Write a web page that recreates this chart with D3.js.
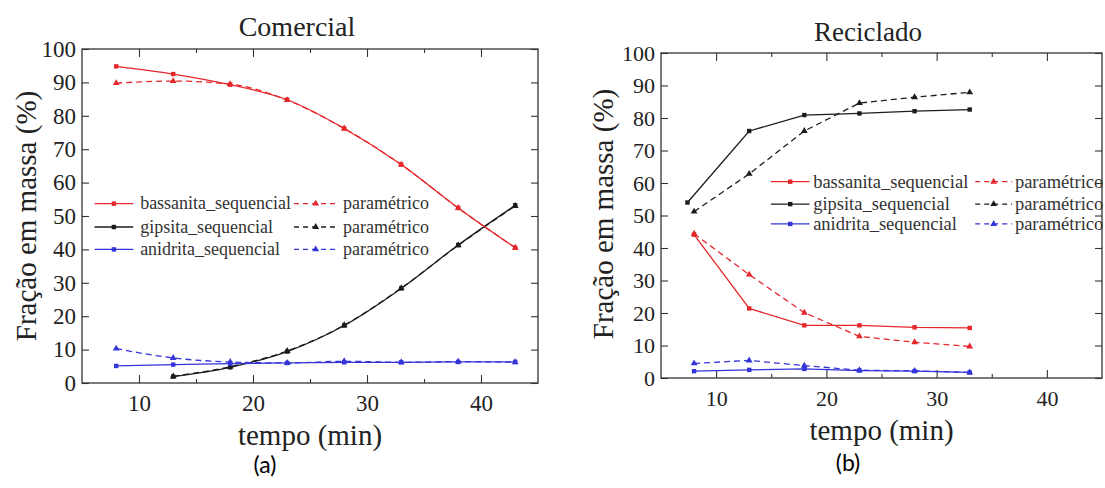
<!DOCTYPE html>
<html><head><meta charset="utf-8">
<script src="https://cdn.jsdelivr.net/npm/d3@7"></script>
<style>
body{margin:0;background:#fff}svg{display:block}
.serif{font-family:"Liberation Serif","Times New Roman","DejaVu Serif",serif}
.sans{font-family:Lato,"Open Sans",sans-serif}
</style>
</head><body><svg id="c" width="1105" height="488"></svg>
<script>
// ---------- tick labels ----------
const xTickVals = [10, 20, 30, 40];
const xMinorVals = [15, 25, 35];
const yTickVals = [0, 10, 20, 30, 40, 50, 60, 70, 80, 90, 100];

// ---------- (a) Comercial ----------
const timesA = [8, 13, 18, 23, 28, 33, 38, 43];
const bassSeqA = [94.8, 92.5, 89.3, 84.8, 76.2, 65.4, 52.4, 40.5];
const bassParA = [89.8, 90.4, 89.5, 84.7, 76.2, 65.4, 52.4, 40.5];
const gipsTimesA = [13, 18, 23, 28, 33, 38, 43];
const gipsSeqA = [1.9, 4.7, 9.4, 17.2, 28.3, 41.3, 53.2];
const gipsParA = [2.0, 4.9, 9.6, 17.3, 28.4, 41.2, 53.0];
const anidSeqA = [5.1, 5.5, 5.8, 6.0, 6.2, 6.2, 6.3, 6.3];
const anidParA = [10.3, 7.5, 6.3, 6.0, 6.5, 6.2, 6.4, 6.2];

// ---------- (b) Reciclado ----------
const timesB = [8, 13, 18, 23, 28, 33];
const gipsSeqTimesB = [7.4, 13, 18, 23, 28, 33];
const gipsSeqB = [54.0, 76.0, 80.9, 81.4, 82.1, 82.6];
const gipsParB = [51.2, 62.8, 76.0, 84.6, 86.4, 87.9];
const bassSeqB = [44.1, 21.4, 16.2, 16.2, 15.6, 15.4];
const bassParB = [44.4, 31.8, 20.1, 12.8, 11.0, 9.7];
const anidSeqB = [2.1, 2.5, 2.8, 2.3, 2.1, 1.7];
const anidParB = [4.5, 5.4, 3.8, 2.4, 2.2, 1.7];

const legendNames = ["bassanita_sequencial", "gipsita_sequencial", "anidrita_sequencial"];
const legendParam = "paramétrico";

const RED = "#e5262b", BLACK = "#1c1c1c", BLUE = "#3434d8";

const zip = (xs, ys) => xs.map((t, i) => [t, ys[i]]);

const panels = [
  {
    title: "Comercial", tag: "(a)",
    xr: [82, 538], yr: [383, 49],
    titleX: 297, titleY: 36, titleSize: 28, tickSize: 23, ylabX: 26, ylabY: 216, tagX: 265, tagY: 473,
    curve: d3.curveMonotoneX,
    legRows: [53.7, 46.7, 40], legSize: 18,
    legX: {l0: 6.1, l1: 9.5, t1: 10.1, d0: 23.6, d1: 27.4, t2: 27.9},
    series: [
      {pts: zip(gipsTimesA, gipsParA), color: BLACK, dash: true},
      {pts: zip(gipsTimesA, gipsSeqA), color: BLACK, dash: false},
      {pts: zip(timesA, anidParA), color: BLUE, dash: true},
      {pts: zip(timesA, anidSeqA), color: BLUE, dash: false},
      {pts: zip(timesA, bassParA), color: RED, dash: true},
      {pts: zip(timesA, bassSeqA), color: RED, dash: false}
    ]
  },
  {
    title: "Reciclado", tag: "(b)",
    xr: [661, 1102], yr: [378, 53],
    titleX: 868, titleY: 41, titleSize: 27, tickSize: 22, ylabX: 603, ylabY: 214, tagX: 848, tagY: 471,
    curve: d3.curveLinear,
    legRows: [60.4, 53.5, 47.4], legSize: 18.5,
    legX: {l0: 14.97, l1: 18.47, t1: 18.8, d0: 33.5, d1: 36.85, t2: 37.1},
    series: [
      {pts: zip(timesB, gipsParB), color: BLACK, dash: true},
      {pts: zip(gipsSeqTimesB, gipsSeqB), color: BLACK, dash: false},
      {pts: zip(timesB, bassParB), color: RED, dash: true},
      {pts: zip(timesB, bassSeqB), color: RED, dash: false},
      {pts: zip(timesB, anidParB), color: BLUE, dash: true},
      {pts: zip(timesB, anidSeqB), color: BLUE, dash: false}
    ]
  }
];

const svg = d3.select("#c");
svg.append("rect").attr("width", 1105).attr("height", 488).attr("fill", "#fff");

const tri = d3.symbol().type(d3.symbolTriangle).size(20);

function marker(g, cx, cy, color, dash) {
  if (dash) {
    g.append("path").attr("d", tri()).attr("transform", `translate(${cx},${cy})`).attr("fill", color);
  } else {
    g.append("rect").attr("x", cx - 2.2).attr("y", cy - 2.2).attr("width", 4.4).attr("height", 4.4).attr("fill", color);
  }
}

panels.forEach(p => {
  const x = d3.scaleLinear().domain([5, 45]).range(p.xr);
  const y = d3.scaleLinear().domain([0, 100]).range(p.yr);
  const g = svg.append("g");
  const bottom = p.yr[0], top = p.yr[1];

  const styleAxis = a => {
    a.select(".domain").remove();
    a.attr("font-family", null).attr("font-size", null);
    a.selectAll("line").attr("stroke", "#333").attr("stroke-width", 1.1);
    a.selectAll("text").attr("class", "serif").style("font-size", p.tickSize + "px").attr("fill", "#222");
  };
  g.append("g").attr("transform", `translate(0,${bottom})`)
    .call(d3.axisBottom(x).tickValues(xTickVals).tickSizeInner(-8).tickSizeOuter(0).tickPadding(12).tickFormat(d3.format("d")))
    .call(styleAxis);
  g.append("g").attr("transform", `translate(0,${bottom})`)
    .call(d3.axisBottom(x).tickValues(xMinorVals).tickSizeInner(-4).tickSizeOuter(0).tickFormat(""))
    .call(styleAxis);
  g.append("g").attr("transform", `translate(0,${top})`)
    .call(d3.axisTop(x).tickValues(xTickVals).tickSizeInner(-8).tickSizeOuter(0).tickFormat(""))
    .call(styleAxis);
  g.append("g").attr("transform", `translate(0,${top})`)
    .call(d3.axisTop(x).tickValues(xMinorVals).tickSizeInner(-4).tickSizeOuter(0).tickFormat(""))
    .call(styleAxis);
  g.append("g").attr("transform", `translate(${p.xr[0]},0)`)
    .call(d3.axisLeft(y).tickValues(yTickVals).tickSizeInner(-7).tickSizeOuter(0).tickPadding(6).tickFormat(d3.format("d")))
    .call(styleAxis);
  g.append("g").attr("transform", `translate(${p.xr[1]},0)`)
    .call(d3.axisRight(y).tickValues(yTickVals).tickSizeInner(-7).tickSizeOuter(0).tickFormat(""))
    .call(styleAxis);

  g.append("rect").attr("x", p.xr[0]).attr("y", top)
    .attr("width", p.xr[1] - p.xr[0]).attr("height", bottom - top)
    .attr("fill", "none").attr("stroke", "#333").attr("stroke-width", 1.3);

  const line = d3.line().x(d => x(d[0])).y(d => y(d[1])).curve(p.curve);
  p.series.forEach(s => {
    g.append("path").attr("d", line(s.pts)).attr("fill", "none")
      .attr("stroke", s.color).attr("stroke-width", 1.3)
      .attr("stroke-dasharray", s.dash ? "6,4" : null);
    s.pts.forEach(d => marker(g, x(d[0]), y(d[1]), s.color, s.dash));
  });

  const cols = [RED, BLACK, BLUE];
  const lg = g.append("g");
  p.legRows.forEach((rv, i) => {
    const ry = y(rv);
    const c = cols[i];
    lg.append("line").attr("x1", x(p.legX.l0)).attr("x2", x(p.legX.l1)).attr("y1", ry).attr("y2", ry)
      .attr("stroke", c).attr("stroke-width", 1.3);
    marker(lg, (x(p.legX.l0) + x(p.legX.l1)) / 2, ry, c, false);
    lg.append("text").attr("class", "serif").attr("x", x(p.legX.t1)).attr("y", ry).attr("dy", "0.32em")
      .style("font-size", p.legSize + "px").attr("fill", "#333").text(legendNames[i]);
    lg.append("line").attr("x1", x(p.legX.d0)).attr("x2", x(p.legX.d1)).attr("y1", ry).attr("y2", ry)
      .attr("stroke", c).attr("stroke-width", 1.3).attr("stroke-dasharray", "5,4");
    marker(lg, (x(p.legX.d0) + x(p.legX.d1)) / 2, ry, c, true);
    lg.append("text").attr("class", "serif").attr("x", x(p.legX.t2)).attr("y", ry).attr("dy", "0.32em")
      .style("font-size", p.legSize + "px").attr("fill", "#333").text(legendParam);
  });

  g.append("text").attr("class", "serif").attr("x", p.titleX).attr("y", p.titleY).attr("text-anchor", "middle")
    .style("font-size", p.titleSize + "px").attr("fill", "#222").text(p.title);
  g.append("text").attr("class", "serif").attr("x", (p.xr[0] + p.xr[1]) / 2).attr("y", bottom + 62).attr("text-anchor", "middle")
    .style("font-size", "29px").attr("fill", "#222").text("tempo (min)");
  g.append("text").attr("class", "serif").attr("transform", `translate(${p.ylabX},${p.ylabY}) rotate(-90)`)
    .attr("text-anchor", "middle").attr("dy", "0.35em")
    .style("font-size", "29px").attr("fill", "#222").text("Fração em massa (%)");
  svg.append("text").attr("class", "sans").attr("x", p.tagX).attr("y", p.tagY).attr("text-anchor", "middle")
    .style("font-size", "23px").attr("fill", "#000").text(p.tag);
});
</script>
</body></html>
